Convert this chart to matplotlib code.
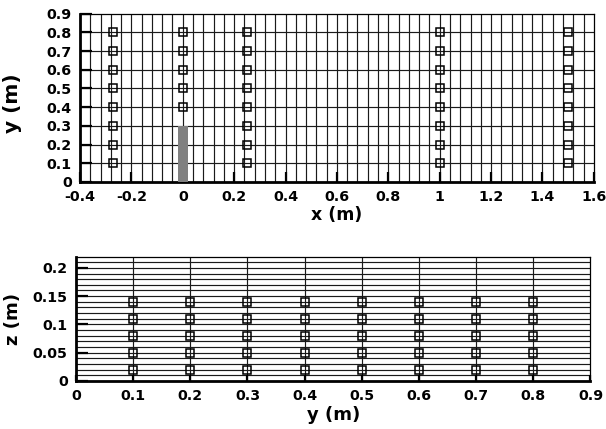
import numpy as np
import matplotlib.pyplot as plt

plt.rcParams['font.family'] = ['DejaVu Sans']
plt.rcParams['font.weight'] = 'bold'

# probe stations in the x-y plane (top view)
xy_x = [-0.27, 0.0, 0.25, 1.0, 1.5]
xy_y = [
    [0.1, 0.2, 0.3, 0.4, 0.5, 0.6, 0.7, 0.8],
    [0.4, 0.5, 0.6, 0.7, 0.8],
    [0.1, 0.2, 0.3, 0.4, 0.5, 0.6, 0.7, 0.8],
    [0.1, 0.2, 0.3, 0.4, 0.5, 0.6, 0.7, 0.8],
    [0.1, 0.2, 0.3, 0.4, 0.5, 0.6, 0.7, 0.8],
]
# obstacle
obst_x = 0.0
obst_w = 0.04
obst_h = 0.3

# probe stations in the y-z plane (side view)
yz_y = [0.1, 0.2, 0.3, 0.4, 0.5, 0.6, 0.7, 0.8]
yz_z = [0.02, 0.05, 0.08, 0.11, 0.14]

# mesh lines
mesh_x = np.round(np.arange(-0.36, 1.6, 0.04), 2)
mesh_y = [0.1, 0.2, 0.3, 0.4, 0.5, 0.6, 0.7, 0.8]
mesh_ys = [0.1, 0.2, 0.3, 0.4, 0.5, 0.6, 0.7, 0.8]
mesh_z = np.round(np.arange(0.01, 0.22, 0.01), 2)

fig = plt.figure(figsize=(6.06, 4.29), dpi=100)
ax1 = fig.add_axes([0.132, 0.576, 0.848, 0.392])
ax2 = fig.add_axes([0.1254, 0.112, 0.849, 0.29])

grid_kw = dict(color='#1a1a1a', lw=0.85, zorder=1)
mk_kw = dict(ls='none', marker='s', ms=6.2, mfc='none', mec='black', mew=1.1, zorder=4)


def style(ax, xmajor, ymajor, xlen, ylen, size):
    ax.set_xticks(xmajor)
    ax.set_yticks(ymajor)
    ax.tick_params(axis='x', direction='in', length=xlen, width=1.6, pad=5.5,
                   labelsize=size, top=False)
    ax.tick_params(axis='y', direction='in', length=ylen, width=1.6, pad=6,
                   labelsize=size, right=False)
    for s in ['left', 'bottom']:
        ax.spines[s].set_linewidth(2.0)
    for s in ['top', 'right']:
        ax.spines[s].set_linewidth(0.9)


# top: x-y plane
for xv in mesh_x:
    ax1.axvline(xv, **grid_kw)
for yv in mesh_y:
    ax1.axhline(yv, **grid_kw)
ax1.bar(obst_x, obst_h, width=obst_w, color='#808080', zorder=3)
for xv, ys in zip(xy_x, xy_y):
    ax1.plot([xv] * len(ys), ys, **mk_kw)
ax1.set_xlim(-0.4, 1.6)
ax1.set_ylim(0, 0.9)
style(ax1, np.round(np.arange(-0.4, 1.61, 0.2), 1), np.round(np.arange(0, 0.91, 0.1), 1), 7, 8.5, 10.3)
ax1.set_xticklabels(['-0.4', '-0.2', '0', '0.2', '0.4', '0.6', '0.8', '1', '1.2', '1.4', '1.6'])
ax1.set_yticklabels(['0', '0.1', '0.2', '0.3', '0.4', '0.5', '0.6', '0.7', '0.8', '0.9'])
ax1.set_xlabel('x (m)', fontsize=12.5, fontweight='bold')
ax1.set_ylabel('y (m)', fontsize=14.5, fontweight='bold')
ax1.xaxis.set_label_coords(0.5, -0.145)
ax1.yaxis.set_label_coords(-0.112, 0.47)

# bottom: y-z plane
for yv in mesh_ys:
    ax2.axvline(yv, **grid_kw)
for zv in mesh_z:
    ax2.axhline(zv, **grid_kw)
for yv in yz_y:
    ax2.plot([yv] * len(yz_z), yz_z, **mk_kw)
ax2.set_xlim(0, 0.9)
ax2.set_ylim(0, 0.22)
style(ax2, np.round(np.arange(0, 0.91, 0.1), 1), [0, 0.05, 0.1, 0.15, 0.2], 4.5, 8.5, 10.2)
ax2.set_xticklabels(['0', '0.1', '0.2', '0.3', '0.4', '0.5', '0.6', '0.7', '0.8', '0.9'])
ax2.set_yticklabels(['0', '0.05', '0.1', '0.15', '0.2'])
ax2.set_xlabel('y (m)', fontsize=13, fontweight='bold')
ax2.set_ylabel('z (m)', fontsize=13, fontweight='bold')
ax2.xaxis.set_label_coords(0.5, -0.2)
ax2.yaxis.set_label_coords(-0.105, 0.5)

fig.savefig('out.png', dpi=100)
